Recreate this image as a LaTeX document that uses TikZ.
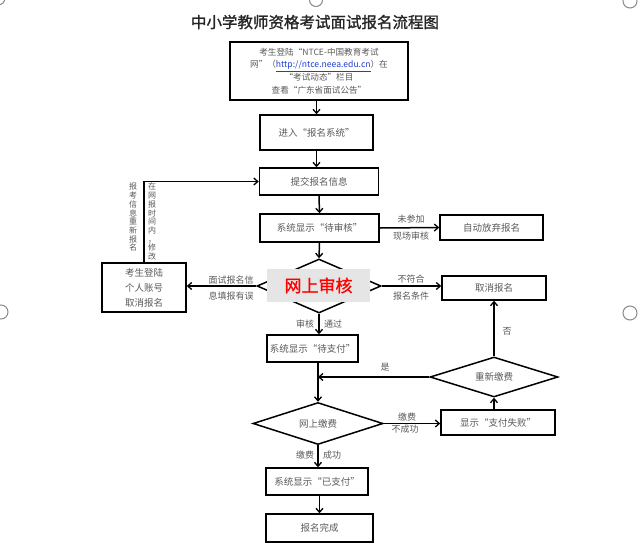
\documentclass[tikz,border=0pt]{standalone}
\usepackage{fontspec}
\setmainfont{Noto Sans CJK SC}
\newfontfamily\cjkbold[FakeBold=1.2]{Noto Sans CJK SC}
\usetikzlibrary{shapes.geometric,arrows.meta}
\definecolor{txt}{HTML}{5A5A5A}
\definecolor{linkblue}{HTML}{1F3FD0}
\definecolor{handle}{HTML}{8A8A8A}
\begin{document}
\begin{tikzpicture}[x=1pt,y=-1pt,
  box/.style={draw=black,line width=1.5pt,rectangle,inner sep=0pt,text=txt,font=\fontsize{9.5}{12}\selectfont,align=center},
  dia/.style={draw=black,line width=1.5pt,diamond,inner sep=0pt,aspect=3,text=txt,font=\fontsize{9.5}{12}\selectfont},
  lab/.style={text=txt,font=\fontsize{9}{11}\selectfont,inner sep=0pt},
  vlab/.style={text=txt,font=\fontsize{8}{8.7}\selectfont,inner sep=0pt,align=center,anchor=north},
  arr/.style={-{Straight Barb[length=4pt,width=7pt,line width=1.3pt]},line width=1.5pt,draw=black},
  handlec/.style={draw=handle,line width=1pt}
]
\useasboundingbox (0,0) rectangle (640,552);
\fill[white] (0,0) rectangle (640,552);

% selection handles
\draw[handlec] (-2,-2) circle (7);
\draw[handlec] (316,0) circle (6.5);
\draw[handlec] (630,1) circle (7);
\draw[handlec] (1,312) circle (7);
\draw[handlec] (630,313) circle (7);

% title
\node[font=\fontsize{15.5}{18}\selectfont\cjkbold,text=black!85] (title) at (315,22) {中小学教师资格考试面试报名流程图};

% boxes
\node[box,minimum width=178,minimum height=58,font=\fontsize{8.6}{12.6}\selectfont] (b1) at (319,71)
 {考生登陆“NTCE-中国教育考试\\网”（{\color{linkblue}\underline{http://ntce.neea.edu.cn}}）在\\“考试动态”栏目\\查看“广东省面试公告”};
\node[box,minimum width=113,minimum height=35] (b2) at (316.5,132.5) {进入“报名系统”};
\node[box,minimum width=119,minimum height=27] (b3) at (319,181.5) {提交报名信息};
\node[box,minimum width=119,minimum height=28] (b4) at (319.5,228) {系统显示“待审核”};
\node[box,minimum width=103,minimum height=25] (bab) at (491.5,227.5) {自动放弃报名};
\node[dia,minimum width=124,minimum height=54] (d1) at (319,286) {};
\node[fill=black!10,minimum width=103,minimum height=33,inner sep=0pt,text=red,font=\fontsize{17}{20}\selectfont\cjkbold] (d1t) at (318.5,285.5) {网上审核};
\node[box,minimum width=104,minimum height=24] (bc) at (494,288) {取消报名};
\node[box,minimum width=84,minimum height=49,font=\fontsize{9.5}{15}\selectfont] (bl) at (144,287.5) {考生登陆\\个人账号\\取消报名};
\node[box,minimum width=91,minimum height=27] (b5) at (312.5,348.5) {系统显示“待支付”};
\node[dia,minimum width=130,minimum height=42] (d2) at (318,423.5) {网上缴费};
\node[box,minimum width=114,minimum height=25] (bf) at (498,422.5) {显示“支付失败”};
\node[dia,minimum width=128,minimum height=40] (d3) at (494,377) {重新缴费};
\node[box,minimum width=102,minimum height=27] (b6) at (317,481.5) {系统显示“已支付”};
\node[box,minimum width=107,minimum height=28] (b7) at (319.5,528) {报名完成};

% connectors
\draw[arr] (b1.south -| b2.north) -- (b2.north);
\draw[arr] (b2.south) -- (b2.south |- b3.north);
\draw[arr] (b3.south) -- (b4.north);
\draw[arr] (b4.south) -- (d1.north);
\draw[arr] (b4.east) -- (bab.west);
\draw[arr] (d1.east) -- (d1.east -| bc.west);
\draw[arr] (d1.west) -- (d1.west -| bl.east);
\draw[arr] (bl.north) |- (b3.west);
\draw[arr] (d1.south) -- (d1.south |- b5.north);
\draw[arr] (b5.south -| d2.north) -- (d2.north);
\coordinate (j) at (d3.west -| d2.north);
\draw[arr] (d3.west) -- (j);
\draw[arr] (d2.east) -- (d2.east -| bf.west);
\draw[arr] (bf.north -| d3.south) -- (d3.south);
\draw[arr] (d3.north) -- (d3.north |- bc.south);
\draw[arr] (d2.south) -- (d2.south |- b6.north);
\draw[arr] (b6.south -| b7.north) -- (b7.north);

% labels
\node[lab] (l1a) at (411,219) {未参加};
\node[lab] (l1b) at (411,236) {现场审核};
\node[lab] (l2a) at (411,279) {不符合};
\node[lab] (l2b) at (411,296) {报名条件};
\node[lab] (l3a) at (231,280) {面试报名信};
\node[lab] (l3b) at (231,296) {息填报有误};
\node[lab] (l4a) at (305,324) {审核};
\node[lab] (l4b) at (333,324) {通过};
\node[lab] (l5) at (385,367) {是};
\node[lab] (l6) at (507,331) {否};
\node[lab] (l7a) at (407,417) {缴费};
\node[lab] (l7b) at (405,429) {不成功};
\node[lab] (l8a) at (305,455) {缴费};
\node[lab] (l8b) at (332,455) {成功};
\node[vlab] (v1) at (133,183) {报\\考\\信\\息\\重\\新\\报\\名};
\node[vlab] (v2) at (152,183) {在\\网\\报\\时\\间\\内\\，\\修\\改};
\end{tikzpicture}
\end{document}
